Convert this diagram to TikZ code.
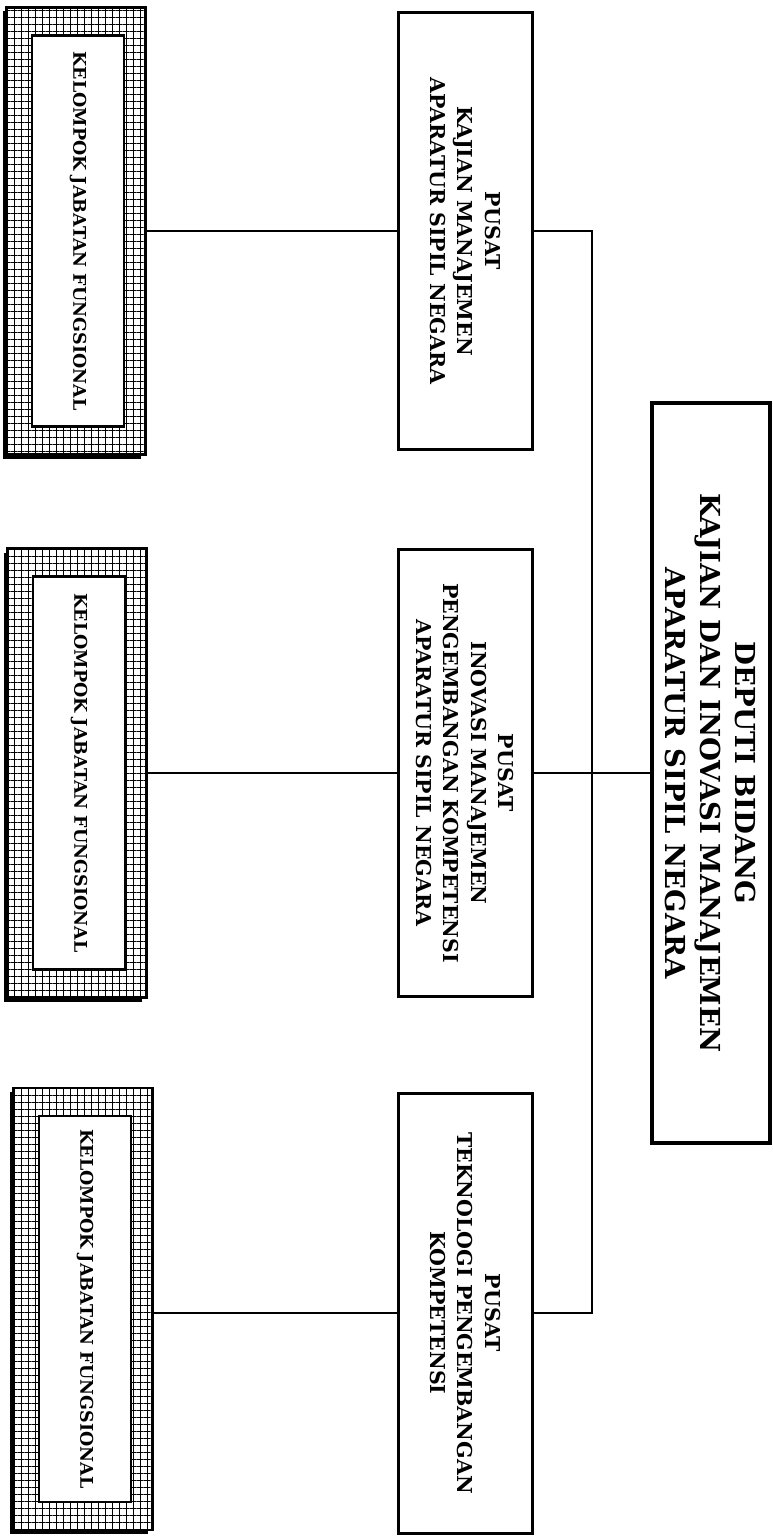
\documentclass[tikz,border=0pt]{standalone}
\usepackage{fontspec}
\setmainfont{DejaVu Serif}
\usetikzlibrary{patterns.meta}

\tikzset{
  unit/.style={draw,line width=3pt,fill=white,minimum width=440pt,minimum height=134pt,
    align=center,inner sep=0pt,font=\bfseries\fontsize{20.5}{27.5}\selectfont},
  head/.style={draw,line width=3.5pt,fill=white,minimum width=740pt,minimum height=118pt,
    align=center,inner sep=0pt,font=\bfseries\fontsize{27.5}{35}\selectfont},
  grpframe/.style={draw,line width=2.5pt,minimum height=139pt,inner sep=0pt,
    fill=white,postaction={pattern={Hatch[angle=0,distance=7pt,line width=0.9pt]}}},
  grp/.style={draw,line width=2.5pt,fill=white,minimum height=92pt,inner sep=0pt,
    font=\bfseries\fontsize{17.5}{20}\selectfont},
  link/.style={line width=2.6pt}
}

\begin{document}
\begin{tikzpicture}[x=1pt,y=-1pt]
  \useasboundingbox (0,0) rectangle (773,1536);

  % kepala
  \node (deputi) [head,rotate=-90] at (711,773)
    {DEPUTI BIDANG\\KAJIAN DAN INOVASI MANAJEMEN\\APARATUR SIPIL NEGARA};

  % pusat
  \node (pusat1) [unit,rotate=-90,minimum width=437pt] at (465,231)
    {PUSAT\\KAJIAN MANAJEMEN\\APARATUR SIPIL NEGARA};
  \node (pusat2) [unit,rotate=-90,minimum width=447pt] at (465,773)
    {PUSAT\\INOVASI MANAJEMEN\\PENGEMBANGAN KOMPETENSI\\APARATUR SIPIL NEGARA};
  \node (pusat3) [unit,rotate=-90] at (465,1313)
    {PUSAT\\TEKNOLOGI PENGEMBANGAN\\KOMPETENSI};

  % kelompok jabatan fungsional (bingkai berarsir, bayangan kiri-bawah)
  \foreach \i/\x/\y/\h in {1/76/231/447,2/77/773/449,3/83/1309/442}{
    \fill[black] (\x-73,\y-\h/2+4) rectangle (\x+65,\y+\h/2+4);
    \node (frame\i) [grpframe,rotate=-90,minimum width=\h] at (\x,\y) {};
    \node (jf\i) [grp,rotate=-90,minimum width=\h-56] at (\x+2,\y) {KELOMPOK JABATAN FUNGSIONAL};
  }

  % garis
  \coordinate (bus1) at (592,231);
  \coordinate (bus3) at (592,1313);
  \draw[link] (pusat1.north) -- (bus1) -- (bus3) -- (pusat3.north);
  \draw[link] (pusat2.north) -- (deputi.south |- pusat2.north);
  \draw[link] (frame1.north |- pusat1.south) -- (pusat1.south);
  \draw[link] (frame2.north |- pusat2.south) -- (pusat2.south);
  \draw[link] (frame3.north |- pusat3.south) -- (pusat3.south);
\end{tikzpicture}
\end{document}
